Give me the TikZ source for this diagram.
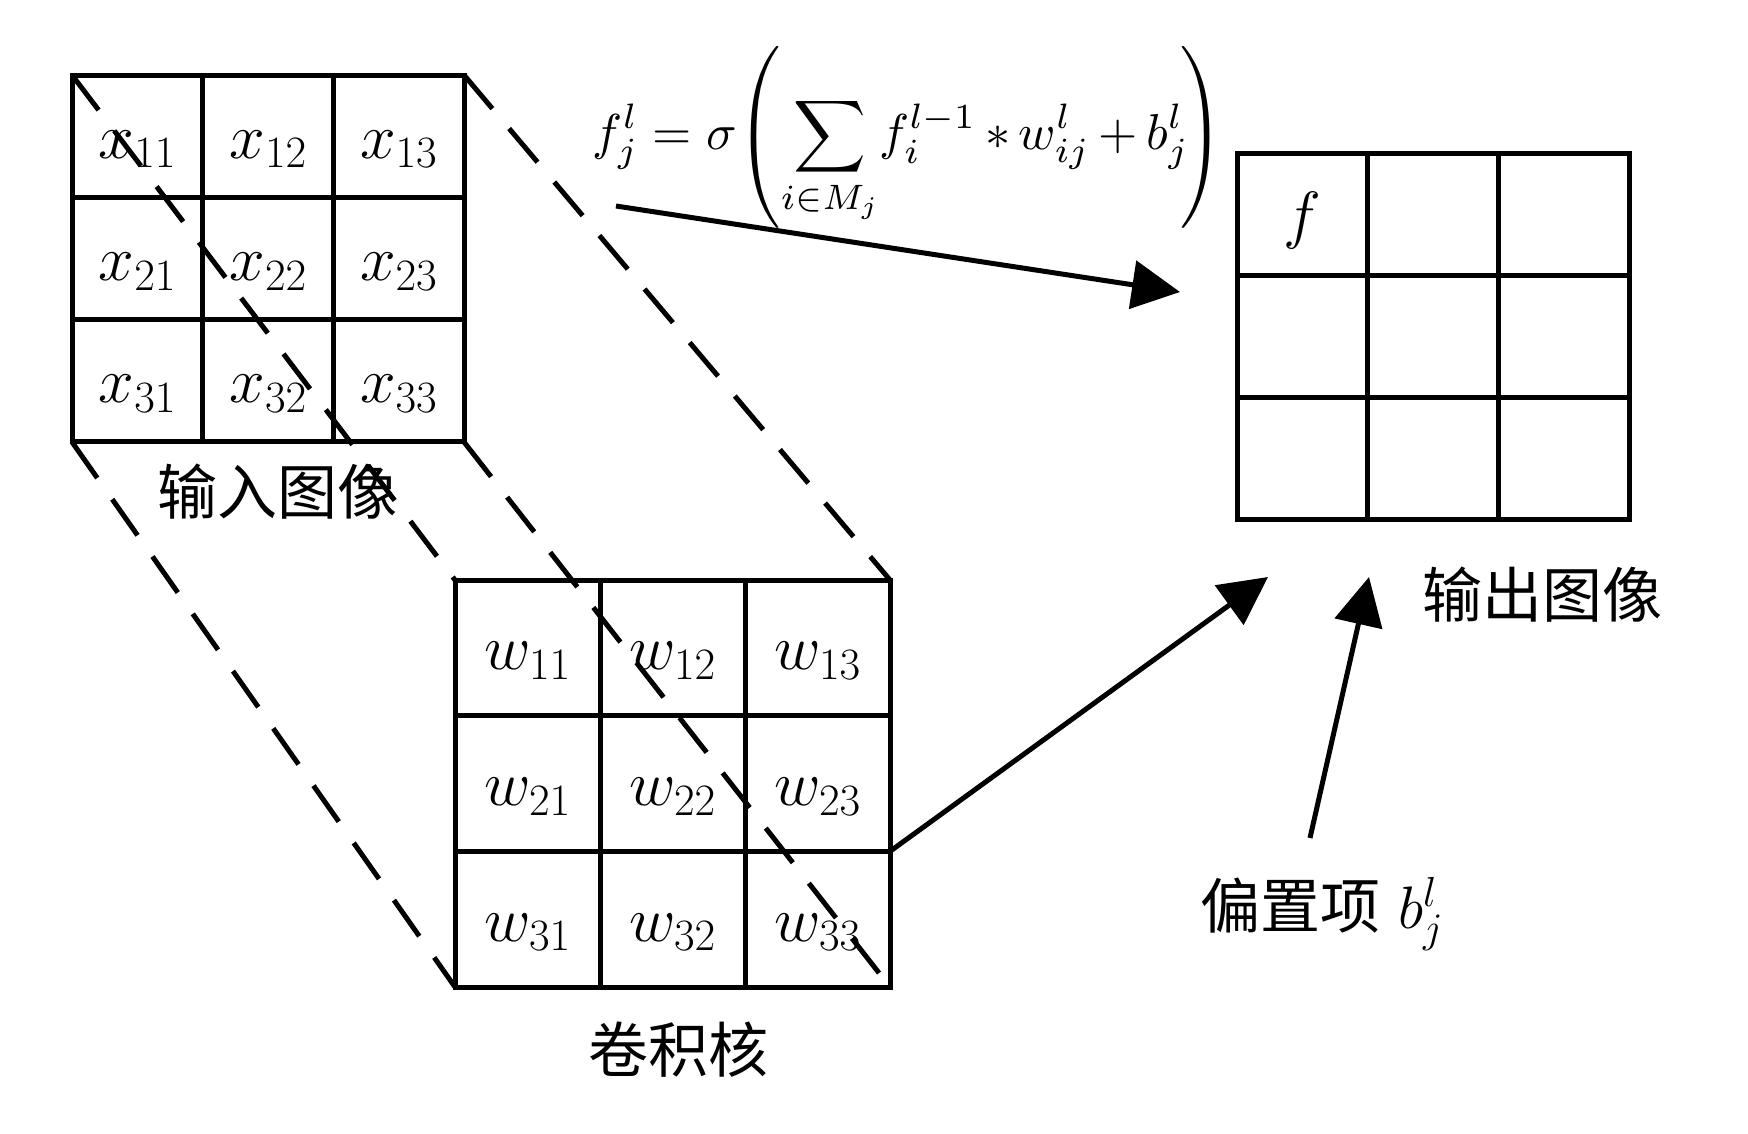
\RequirePackage{fix-cm}
\documentclass[tikz,border=0pt]{standalone}
\usepackage{fontspec}
\newfontfamily\cjk{Noto Sans CJK SC}
\usetikzlibrary{arrows.meta}
\tikzset{
  cellA/.style={draw, line width=5pt, inner sep=0pt, outer sep=0pt,
    minimum width=130.67pt, minimum height=122.33pt,
    text height=50pt, text depth=6pt, font=\fontsize{64}{77}\selectfont},
  cellK/.style={cellA, minimum width=145pt, minimum height=135.67pt},
  dashline/.style={line width=5pt, dash pattern=on 44pt off 26pt},
  arr/.style={line width=5pt, -{Triangle[length=48pt,width=48pt]}},
  cjklabel/.style={font=\cjk\fontsize{60}{72}\selectfont, inner sep=0pt},
}
\begin{document}
\begin{tikzpicture}[x=1pt,y=-1pt]
\useasboundingbox (0,0) rectangle (1748,1133);
% input image grid
\foreach \r in {1,2,3}
  \foreach \c in {1,2,3}
    \node[cellA] (in\r\c) at ({72+(\c-0.5)*130.67},{75+(\r-0.5)*122.33}) {$x_{\r\c}$};
% kernel grid
\foreach \r in {1,2,3}
  \foreach \c in {1,2,3}
    \node[cellK] (k\r\c) at ({455+(\c-0.5)*145},{580+(\r-0.5)*135.67}) {$w_{\r\c}$};
% output grid
\foreach \r/\c/\t in {1/1/$f$,1/2/,1/3/,2/1/,2/2/,2/3/,3/1/,3/2/,3/3/}
  \node[cellA] (o\r\c) at ({1237+(\c-0.5)*130.67},{153+(\r-0.5)*122.33}) {\t};
% dashed projection lines
\draw[dashline] (in11.north west) -- (k11.north west);
\draw[dashline] (in13.north east) -- (k13.north east);
\draw[dashline] (in31.south west) -- (k31.south west);
\draw[dashline] (in33.south east) -- (k33.south east);
% labels
\node[cjklabel] (lin) at (277,492) {输入图像};
\node[cjklabel] (lker) at (678,1050) {卷积核};
\node[cjklabel] (lout) at (1542,595) {输出图像};
\node[cjklabel, anchor=base west] (bias) at (1200,928) {偏置项\hspace{18pt}$b_j^l$};
% formula
\node[inner sep=0pt] (formula) at (909,137)
  {\resizebox{632pt}{!}{\medmuskip=3mu\thickmuskip=5mu\nulldelimiterspace=0pt$\displaystyle f_j^l=\sigma\!\left(\!\rule[-13.2pt]{0pt}{31.4pt}\sum_{i\in M_j}\! f_i^{l-1} * w_{ij}^l + b_j^l\!\right)$}};
% arrows
\coordinate (a1s) at (616,206);
\coordinate (a1e) at (1180,292);
\coordinate (a2e) at (1268,577);
\coordinate (a3s) at (1310,838);
\coordinate (a3e) at (1369,577);
\draw[arr] (a1s) -- (a1e);
\draw[arr] (k23.south east) -- (a2e);
\draw[arr] (a3s) -- (a3e);
\end{tikzpicture}
\end{document}
